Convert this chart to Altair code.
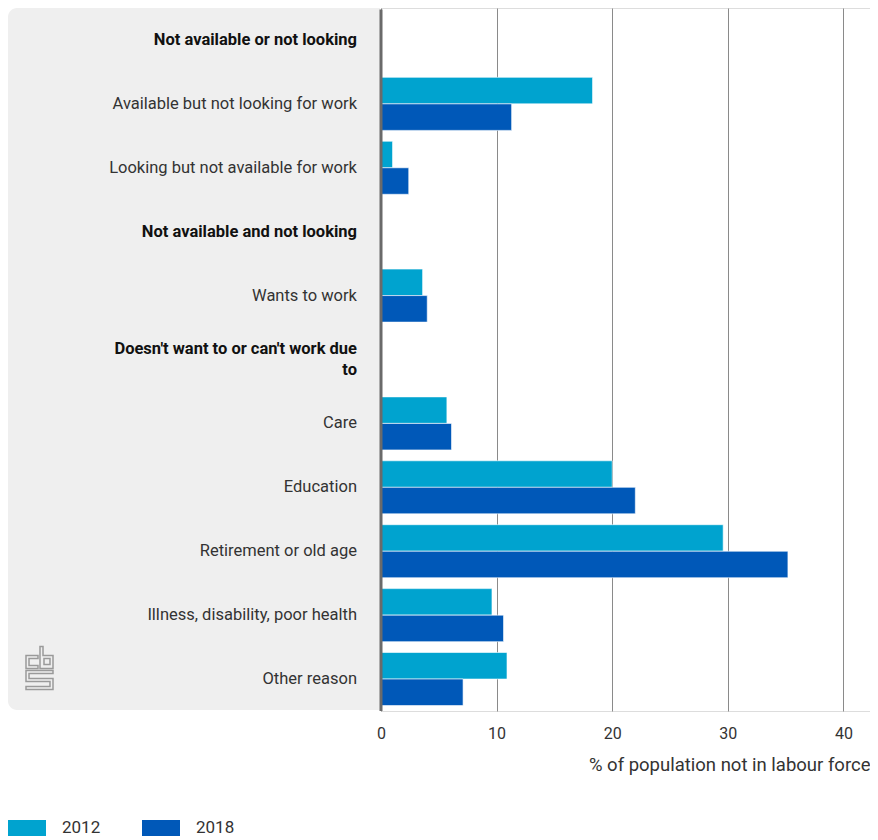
import altair as alt
import pandas as pd

categories = [
    "Not available or not looking",
    "Available but not looking for work",
    "Looking but not available for work",
    "Not available and not looking",
    "Wants to work",
    "Doesn't want to or can't work due to",
    "Care",
    "Education",
    "Retirement or old age",
    "Illness, disability, poor health",
    "Other reason",
]
display_labels = [
    "Not available or not looking",
    "Available but not looking for work",
    "Looking but not available for work",
    "Not available and not looking",
    "Wants to work",
    "Doesn't want to or can't work due\nto",
    "Care",
    "Education",
    "Retirement or old age",
    "Illness, disability, poor health",
    "Other reason",
]
is_header = [True, False, False, True, False, True, False, False, False, False, False]
values_2012 = [None, 18.3, 1.0, None, 3.6, None, 5.7, 20.0, 29.6, 9.6, 10.9]
values_2018 = [None, 11.3, 2.4, None, 4.0, None, 6.1, 22.0, 35.2, 10.6, 7.1]
years = ["2012", "2018"]
colors = ["#00a3cf", "#0058b8"]
x_ticks = [0, 10, 20, 30, 40]

rows = []
for c, a, b in zip(categories, values_2012, values_2018):
    if a is not None:
        rows.append({"category": c, "year": "2012", "value": a})
    if b is not None:
        rows.append({"category": c, "year": "2018", "value": b})
bars_df = pd.DataFrame(rows)

labels_df = pd.DataFrame({
    "category": categories,
    "label": display_labels,
    "header": is_header,
    "multi": ["\n" in s for s in display_labels],
})

FONT = "Roboto"
W, H = 489, 703
LFS = 16.5

yscale = alt.Scale(domain=categories, paddingInner=0.17, paddingOuter=0.085)
xscale = alt.Scale(domain=[0, 42.3], nice=False, zero=True)

# background panel behind the labels
panel = alt.Chart(pd.DataFrame({"k": [0]})).mark_rect(
    color="#efefef", cornerRadiusTopLeft=9, cornerRadiusBottomLeft=9
).encode(
    x=alt.value(-373), x2=alt.value(-1), y=alt.value(0), y2=alt.value(H - 1)
)

# cbs logo as a custom outline path
def to_path(polys, cx=13.5, cy=21.5, r=21.5):
    parts = []
    for poly in polys:
        pts = [f"{(x - cx) / r:.3f},{(y - cy) / r:.3f}" for x, y in poly]
        parts.append("M" + "L".join(pts) + "Z")
    return "".join(parts)

logo_polys = [
    [(12, 9), (0, 9), (0, 22), (12, 22), (12, 19), (3, 19), (3, 12), (12, 12)],
    [(14, 0), (17, 0), (17, 9), (27, 9), (27, 22), (14, 22)],
    [(18, 12), (24, 12), (24, 18), (18, 18)],
    [(27, 24), (0, 24), (0, 35), (24, 35), (24, 40), (0, 40), (0, 43), (27, 43),
     (27, 32), (3, 32), (3, 27), (27, 27)],
]
logo = alt.Chart(pd.DataFrame({"k": [0]})).mark_point(
    shape=to_path(logo_polys), size=1849, filled=False,
    stroke="#9a9a9a", strokeWidth=1.5, opacity=1
).encode(x=alt.value(-341.5), y=alt.value(660))

bars = alt.Chart(bars_df).mark_bar(
    stroke="white", strokeWidth=1, strokeOpacity=0.6
).encode(
    y=alt.Y("category:N", scale=yscale, axis=None, sort=categories),
    yOffset=alt.YOffset("year:N", scale=alt.Scale(domain=years, paddingInner=0, paddingOuter=0)),
    x=alt.X(
        "value:Q", scale=xscale,
        axis=alt.Axis(
            values=x_ticks, title="% of population not in labour force",
            titleAnchor="end", titleAlign="right", titleFontWeight="normal",
            titleFontSize=18.5, titleColor="#333", titlePadding=14,
            labelFontSize=16, labelColor="#333", labelPadding=14, labelFlush=False,
            ticks=False, domain=False, grid=True, gridColor="#8a8a8a", gridWidth=1,
            labelFont=FONT, titleFont=FONT,
        ),
    ),
    color=alt.Color(
        "year:N", scale=alt.Scale(domain=years, range=colors),
        legend=alt.Legend(
            title=None, orient="none", legendX=-373, legendY=801,
            direction="horizontal",
            symbolType="M-1,-0.421L1,-0.421L1,0.421L-1,0.421Z",
            symbolSize=1444, symbolStrokeWidth=0, symbolOpacity=1,
            labelFontSize=17, labelColor="#333", labelFont=FONT,
            labelOffset=16, columnPadding=41, padding=0,
        ),
    ),
)

zero_line = alt.Chart(pd.DataFrame({"v": [0]})).mark_rule(
    color="#6a6a6a", strokeWidth=3
).encode(x=alt.X("v:Q", scale=xscale), y=alt.value(1.5), y2=alt.value(H))

label_base = alt.Chart(labels_df).encode(
    y=alt.Y("category:N", scale=yscale, axis=None, sort=categories),
    x=alt.value(-24),
    text="label:N",
)
labels_regular = label_base.transform_filter("!datum.header").mark_text(
    align="right", baseline="middle", fontSize=LFS, font=FONT, color="#333",
)
labels_header = label_base.transform_filter("datum.header && !datum.multi").mark_text(
    align="right", baseline="middle", fontSize=LFS, font=FONT,
    color="#111", fontWeight="bold",
)
labels_header_multi = label_base.transform_filter("datum.header && datum.multi").mark_text(
    align="right", baseline="middle", fontSize=LFS, font=FONT, lineBreak="\n",
    lineHeight=21, dy=-10.5, color="#111", fontWeight="bold",
)

chart = alt.layer(
    panel, logo, bars, zero_line, labels_regular, labels_header, labels_header_multi
).properties(
    width=W, height=H, padding={"left": 0, "top": 0, "right": 0, "bottom": 0}
).configure_view(stroke=None).configure(font=FONT)

chart.save("out.html", embed_options={"renderer": "svg", "actions": False})
